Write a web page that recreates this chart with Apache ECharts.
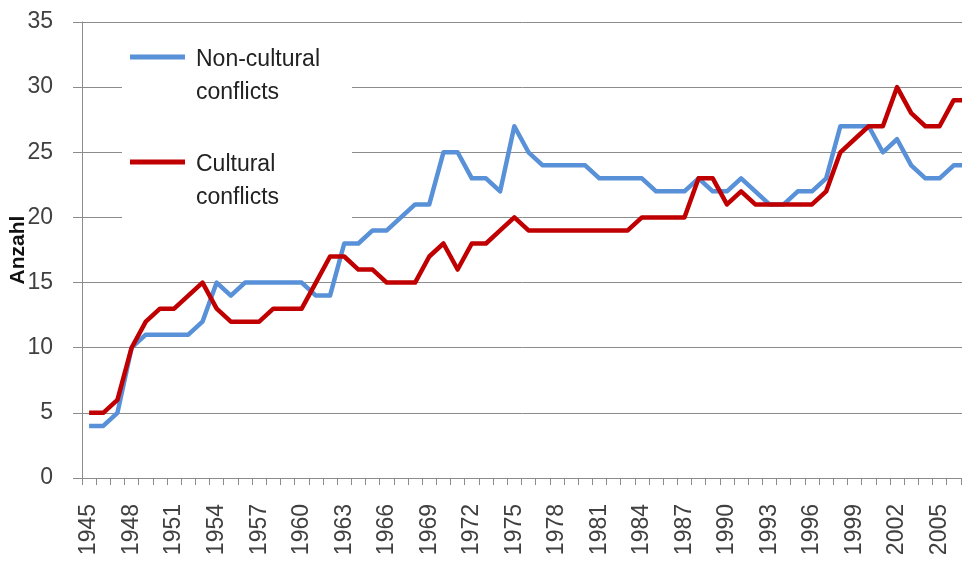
<!DOCTYPE html>
<html>
<head>
<meta charset="utf-8">
<script src="https://cdn.jsdelivr.net/npm/echarts@6/dist/echarts.min.js"></script>
<style>
    html, body { margin: 0; padding: 0; background: #fff; }
    #chart { width: 962px; height: 562px; }
</style>
</head>
<body>
<div id="chart"></div>
<script>
var years = [];
for (var y = 1945; y <= 2007; y++) {
    years.push(String(y));
}

var nonCultural = [
    4, 4, 5, 10, 11, 11, 11, 11, 12, 15,
    14, 15, 15, 15, 15, 15, 14, 14, 18, 18,
    19, 19, 20, 21, 21, 25, 25, 23, 23, 22,
    27, 25, 24, 24, 24, 24, 23, 23, 23, 23,
    22, 22, 22, 23, 22, 22, 23, 22, 21, 21,
    22, 22, 23, 27, 27, 27, 25, 26, 24, 23,
    23, 24, 24
];

var cultural = [
    5, 5, 6, 10, 12, 13, 13, 14, 15, 13,
    12, 12, 12, 13, 13, 13, 15, 17, 17, 16,
    16, 15, 15, 15, 17, 18, 16, 18, 18, 19,
    20, 19, 19, 19, 19, 19, 19, 19, 19, 20,
    20, 20, 20, 23, 23, 21, 22, 21, 21, 21,
    21, 21, 22, 25, 26, 27, 27, 30, 28, 27,
    27, 29, 29
];

var seriesNames = ['Non-cultural\nconflicts', 'Cultural\nconflicts'];

var gridColor = '#8c8c8c';
var labelFont = 'Liberation Sans';

// bar at the top of a taller box, so it lines up with the first text line
var legendIcon = 'path://M0,0H55V5H0Z M0,43H55';

var chartOption = {
    animation: false,
    backgroundColor: '#fff',
    grid: {
        left: 82,
        top: 22,
        right: -13,
        bottom: 84,
        outerBoundsMode: 'none',
        containLabel: false
    },
    legend: {
        orient: 'vertical',
        left: 122,
        top: 30,
        padding: [13, 32, 8, 8],
        backgroundColor: '#fff',
        itemGap: 39,
        itemWidth: 55,
        itemHeight: 43,
        icon: legendIcon,
        itemStyle: { borderWidth: 0 },
        selectedMode: false,
        textStyle: {
            fontFamily: labelFont,
            fontSize: 23,
            lineHeight: 33,
            color: '#222',
            padding: [0, 0, 0, 6]
        },
        data: seriesNames
    },
    xAxis: {
        type: 'category',
        data: years,
        boundaryGap: true,
        axisLine: { lineStyle: { color: gridColor, width: 1 } },
        axisTick: { show: true, interval: 0, length: 7, lineStyle: { color: gridColor } },
        axisLabel: {
            interval: 2,
            rotate: 90,
            margin: 26,
            fontFamily: labelFont,
            fontSize: 23,
            color: '#404040'
        },
        splitLine: { show: false }
    },
    yAxis: {
        type: 'value',
        min: 0,
        max: 35,
        interval: 5,
        name: 'Anzahl',
        nameLocation: 'middle',
        nameGap: 53,
        nameMoveOverlap: false,
        nameTextStyle: {
            fontFamily: labelFont,
            fontSize: 21,
            fontWeight: 'bold',
            color: '#111'
        },
        axisLine: { show: true, lineStyle: { color: gridColor, width: 1 } },
        axisTick: { show: true, length: 9, lineStyle: { color: gridColor } },
        axisLabel: {
            margin: 29,
            fontFamily: labelFont,
            fontSize: 23,
            color: '#404040'
        },
        splitLine: { show: true, lineStyle: { color: gridColor, width: 1 } }
    },
    series: [
        {
            name: seriesNames[0],
            type: 'line',
            data: nonCultural,
            symbol: 'none',
            color: '#5891d8',
            lineStyle: { width: 4.5, color: '#5891d8', join: 'round' },
            z: 3
        },
        {
            name: seriesNames[1],
            type: 'line',
            data: cultural,
            symbol: 'none',
            color: '#c00000',
            lineStyle: { width: 4.5, color: '#c00000', join: 'round' },
            z: 4
        }
    ]
};

var chartDom = document.getElementById('chart');
var myChart = echarts.init(chartDom, null, { renderer: 'canvas' });
myChart.setOption(chartOption, true);
</script>
</body>
</html>
